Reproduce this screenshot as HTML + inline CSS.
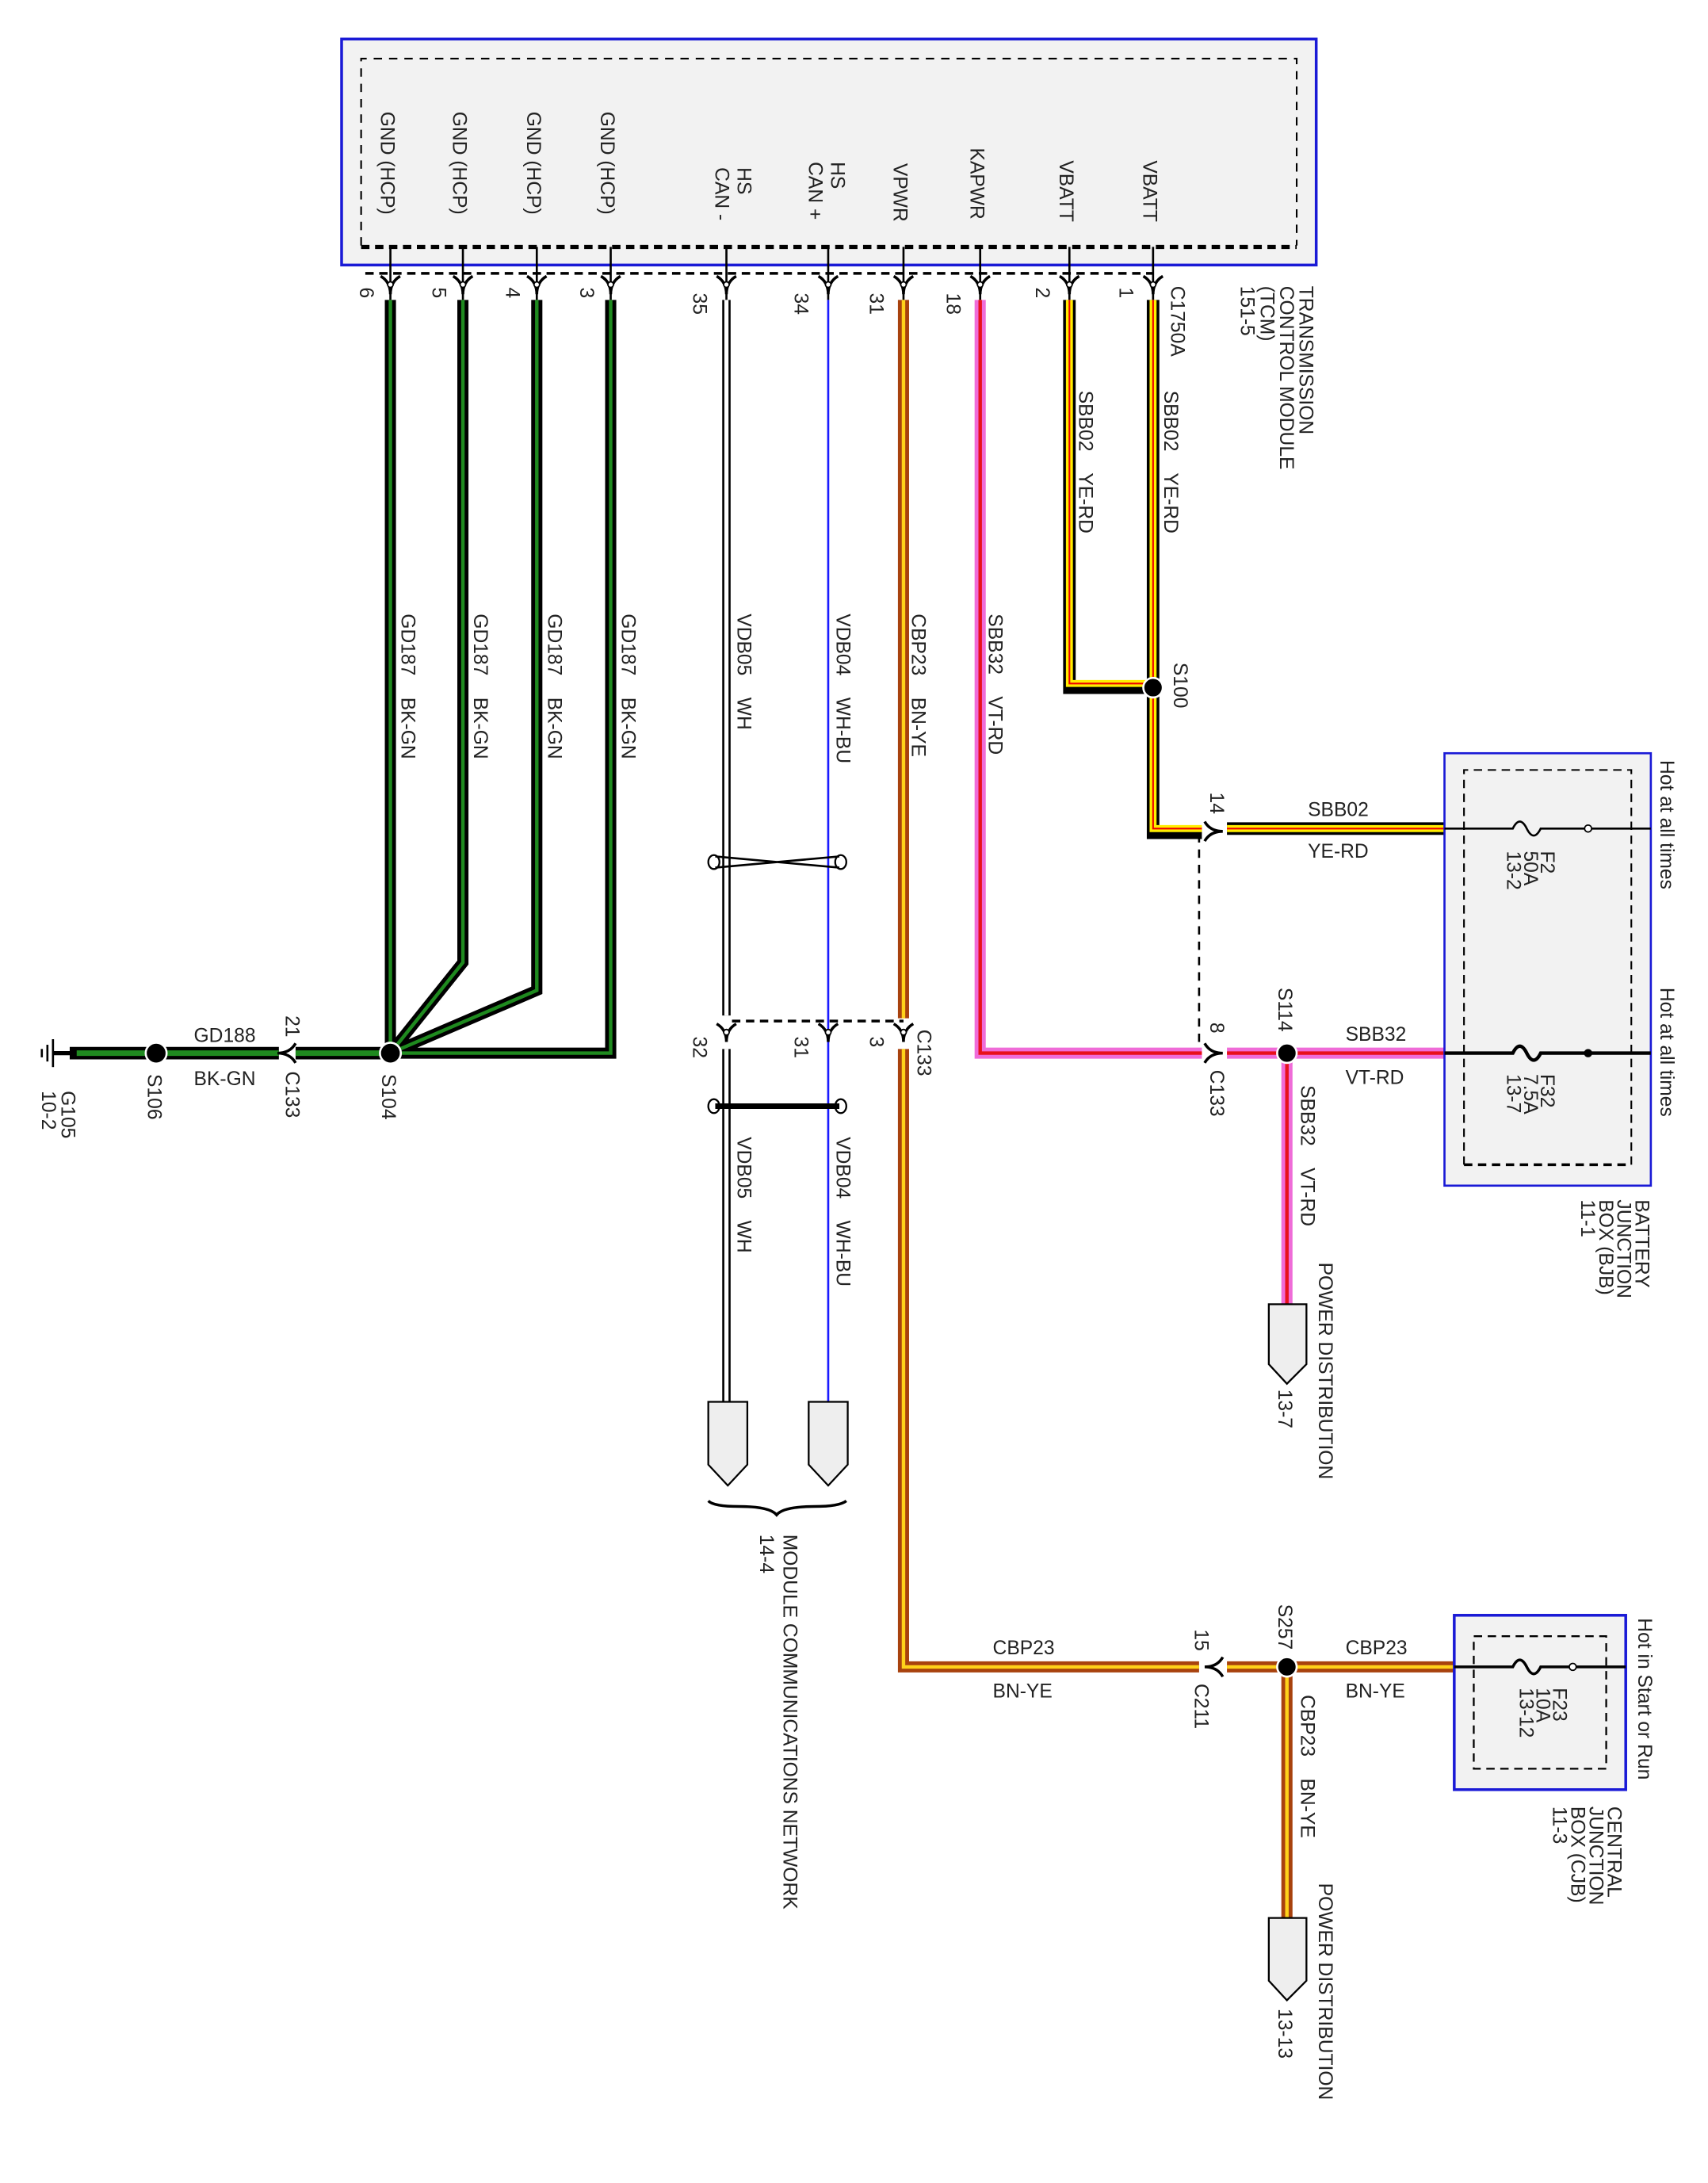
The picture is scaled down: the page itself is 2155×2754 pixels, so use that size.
<!DOCTYPE html>
<html><head><meta charset="utf-8"><style>
html,body{margin:0;padding:0;background:#fff}
svg{display:block}
text{font-family:"Liberation Sans",sans-serif;font-size:14px;fill:#222;white-space:pre}
</style></head><body>
<svg width="2155" height="2754" viewBox="0 0 1225 1565" preserveAspectRatio="none" xmlns="http://www.w3.org/2000/svg" xml:space="preserve">
<defs>
<g id="pinD"><path d="M-7,-6 Q0,-2 0,7 M7,-6 Q0,-2 0,7" fill="none" stroke="#000" stroke-width="2"/><circle cx="0" cy="0" r="2" fill="#fff" stroke="#000" stroke-width="1"/></g>
<g id="pinR"><path d="M-6,-7 Q-2,0 7,0 M-6,7 Q-2,0 7,0" fill="none" stroke="#000" stroke-width="2"/></g>
<g id="pinL"><path d="M6,-7 Q2,0 -7,0 M6,7 Q2,0 -7,0" fill="none" stroke="#000" stroke-width="2"/></g>
</defs>

<rect x="245" y="28" width="699" height="162" fill="#f2f2f2" stroke="#1a1ad6" stroke-width="2"/>
<path d="M259,176 V42 H930 V176" fill="none" stroke="#000" stroke-width="1.2" stroke-dasharray="6,5"/>
<line x1="259" y1="177" x2="930" y2="177" stroke="#000" stroke-width="3" stroke-dasharray="6,4"/>
<line x1="262" y1="196" x2="827" y2="196" stroke="#000" stroke-width="2" stroke-dasharray="6,4"/>

<g stroke="#000" stroke-width="1.5">
<line x1="280" y1="177" x2="280" y2="215"/><line x1="332" y1="177" x2="332" y2="215"/>
<line x1="385" y1="177" x2="385" y2="215"/><line x1="438" y1="177" x2="438" y2="215"/>
<line x1="521" y1="177" x2="521" y2="215"/><line x1="594" y1="177" x2="594" y2="215"/>
<line x1="648" y1="177" x2="648" y2="215"/><line x1="703" y1="177" x2="703" y2="215"/>
<line x1="767" y1="177" x2="767" y2="215"/><line x1="827" y1="177" x2="827" y2="215"/>
</g>
<g>
<use href="#pinD" x="280" y="204"/><use href="#pinD" x="332" y="204"/><use href="#pinD" x="385" y="204"/><use href="#pinD" x="438" y="204"/>
<use href="#pinD" x="521" y="204"/><use href="#pinD" x="594" y="204"/><use href="#pinD" x="648" y="204"/><use href="#pinD" x="703" y="204"/>
<use href="#pinD" x="767" y="204"/><use href="#pinD" x="827" y="204"/>
</g>

<g font-size="16.5">
<text transform="translate(273,80) rotate(90)">GND (HCP)</text>
<text transform="translate(325,80) rotate(90)">GND (HCP)</text>
<text transform="translate(378,80) rotate(90)">GND (HCP)</text>
<text transform="translate(431,80) rotate(90)">GND (HCP)</text>
<text transform="translate(529,120) rotate(90)">HS</text>
<text transform="translate(513,120) rotate(90)">CAN -</text>
<text transform="translate(596,116) rotate(90)">HS</text>
<text transform="translate(580,116) rotate(90)">CAN +</text>
<text transform="translate(641,117) rotate(90)">VPWR</text>
<text transform="translate(696,106) rotate(90)">KAPWR</text>
<text transform="translate(760,115) rotate(90)">VBATT</text>
<text transform="translate(820,115) rotate(90)">VBATT</text>
</g>
<g font-size="14">
<text transform="translate(258,206) rotate(90)">6</text>
<text transform="translate(310,206) rotate(90)">5</text>
<text transform="translate(363,206) rotate(90)">4</text>
<text transform="translate(416,206) rotate(90)">3</text>
<text transform="translate(497,210) rotate(90)">35</text>
<text transform="translate(570,210) rotate(90)">34</text>
<text transform="translate(624,210) rotate(90)">31</text>
<text transform="translate(679,210) rotate(90)">18</text>
<text transform="translate(743,206) rotate(90)">2</text>
<text transform="translate(803,206) rotate(90)">1</text>
<text transform="translate(840,205) rotate(90)">C1750A</text>
<text transform="translate(932,205) rotate(90)">TRANSMISSION</text>
<text transform="translate(918,205) rotate(90)">CONTROL MODULE</text>
<text transform="translate(904,205) rotate(90)">(TCM)</text>
<text transform="translate(890,205) rotate(90)">151-5</text>
</g>

<g fill="none">
<path d="M280,215 V755 M332,215 V690 L280,755 M385,215 V710 L280,755 M438,215 V755 H280" stroke="#000" stroke-width="8"/>
<path d="M280,215 V755 M332,215 V690 L280,755 M385,215 V710 L280,755 M438,215 V755 H280" stroke="#1f8a1f" stroke-width="2.5"/>
<path d="M50,755 H200 M212,755 H280" stroke="#000" stroke-width="9"/>
<path d="M55,755 H200 M212,755 H280" stroke="#1f8a1f" stroke-width="4"/>
</g>
<use href="#pinL" x="206" y="755"/>
<circle cx="280" cy="755" r="7.5" fill="#000" stroke="#fff" stroke-width="1.5"/>
<circle cx="112" cy="755" r="7.5" fill="#000" stroke="#fff" stroke-width="1.5"/>
<g stroke="#000" stroke-width="1.5">
<line x1="38" y1="745" x2="38" y2="765"/><line x1="34" y1="749" x2="34" y2="761"/><line x1="30" y1="752" x2="30" y2="758"/>
<line x1="38" y1="755" x2="52" y2="755" stroke-width="3"/>
</g>
<text x="139" y="747" font-size="15">GD188</text>
<text x="139" y="778" font-size="15">BK-GN</text>
<g font-size="14">
<text transform="translate(205,728) rotate(90)">21</text>
<text transform="translate(205,768) rotate(90)">C133</text>
<text transform="translate(274,770) rotate(90)">S104</text>
<text transform="translate(106,770) rotate(90)">S106</text>
<text transform="translate(44,782) rotate(90)">G105</text>
<text transform="translate(30,782) rotate(90)">10-2</text>
</g>
<g font-size="15">
<text transform="translate(288,440) rotate(90)">GD187    BK-GN</text>
<text transform="translate(340,440) rotate(90)">GD187    BK-GN</text>
<text transform="translate(393,440) rotate(90)">GD187    BK-GN</text>
<text transform="translate(446,440) rotate(90)">GD187    BK-GN</text>
</g>

<g fill="none">
<path d="M521,215 V728 M521,752 V1005" stroke="#000" stroke-width="6"/>
<path d="M521,215 V728 M521,752 V1005" stroke="#fff" stroke-width="3"/>
<path d="M594,215 V1005" stroke="#1a1aff" stroke-width="1.5"/>
<line x1="525" y1="732" x2="648" y2="732" stroke="#000" stroke-width="2" stroke-dasharray="6,4"/>
<path d="M513,614 L602,622 M513,622 L602,614" stroke="#000" stroke-width="1.5"/>
<ellipse cx="512" cy="618" rx="4" ry="5" stroke="#000" stroke-width="1.3"/>
<ellipse cx="603" cy="618" rx="4" ry="5" stroke="#000" stroke-width="1.3"/>
<path d="M513,793 H602" stroke="#000" stroke-width="4"/>
<ellipse cx="512" cy="793" rx="4" ry="5" stroke="#000" stroke-width="1.3"/>
<ellipse cx="603" cy="793" rx="4" ry="5" stroke="#000" stroke-width="1.3"/>
</g>
<use href="#pinD" x="521" y="740"/><use href="#pinD" x="594" y="740"/><use href="#pinD" x="648" y="740"/>
<g font-size="14">
<text transform="translate(497,743) rotate(90)">32</text>
<text transform="translate(570,743) rotate(90)">31</text>
<text transform="translate(624,743) rotate(90)">3</text>
<text transform="translate(658,738) rotate(90)">C133</text>
</g>
<g font-size="15">
<text transform="translate(529,440) rotate(90)">VDB05    WH</text>
<text transform="translate(600,440) rotate(90)">VDB04    WH-BU</text>
<text transform="translate(529,815) rotate(90)">VDB05    WH</text>
<text transform="translate(600,815) rotate(90)">VDB04    WH-BU</text>
<text transform="translate(654,440) rotate(90)">CBP23    BN-YE</text>
<text transform="translate(709,440) rotate(90)">SBB32    VT-RD</text>
<text transform="translate(774,280) rotate(90)">SBB02    YE-RD</text>
<text transform="translate(835,280) rotate(90)">SBB02    YE-RD</text>
</g>
<polygon points="508,1005 536,1005 536,1050 522,1065 508,1050" fill="#eee" stroke="#000" stroke-width="1.3"/>
<polygon points="580,1005 608,1005 608,1050 594,1065 580,1050" fill="#eee" stroke="#000" stroke-width="1.3"/>
<path d="M508,1076 Q512,1080 530,1080 Q552,1080 557,1086 Q562,1080 584,1080 Q602,1080 607,1076" fill="none" stroke="#000" stroke-width="2"/>
<text transform="translate(562,1100) rotate(90)" font-size="15.5">MODULE COMMUNICATIONS NETWORK</text>
<text transform="translate(545,1100) rotate(90)" font-size="15">14-4</text>

<g fill="none">
<path d="M648,215 V730 M648,752 V1195 H860 M880,1195 H1043 M923,1195 V1375" stroke="#a8420e" stroke-width="8"/>
<path d="M648,215 V730 M648,752 V1195 H860 M880,1195 H1043 M923,1195 V1375" stroke="#ffd21a" stroke-width="2.5"/>
</g>
<use href="#pinL" x="871" y="1195"/>
<circle cx="923" cy="1195" r="7" fill="#000" stroke="#fff" stroke-width="1.5"/>
<text x="712" y="1186" font-size="15">CBP23</text><text x="712" y="1217" font-size="15">BN-YE</text>
<text x="965" y="1186" font-size="15">CBP23</text><text x="965" y="1217" font-size="15">BN-YE</text>
<g font-size="14">
<text transform="translate(857,1168) rotate(90)">15</text>
<text transform="translate(857,1207) rotate(90)">C211</text>
<text transform="translate(917,1150) rotate(90)">S257</text>
<text transform="translate(933,1215) rotate(90)" font-size="15">CBP23    BN-YE</text>
<text transform="translate(946,1350) rotate(90)" font-size="15.5">POWER DISTRIBUTION</text>
<text transform="translate(917,1440) rotate(90)" font-size="15">13-13</text>
</g>
<polygon points="910,1375 937,1375 937,1420 923,1434 910,1420" fill="#eee" stroke="#000" stroke-width="1.3"/>

<rect x="1043" y="1158" width="123" height="125" fill="#f2f2f2" stroke="#1a1ad6" stroke-width="2"/>
<rect x="1057" y="1173" width="95" height="95" fill="none" stroke="#000" stroke-width="1.3" stroke-dasharray="6,4"/>
<path d="M1043,1195 H1085 Q1090,1185 1095,1195 Q1100,1205 1105,1195 H1166" fill="none" stroke="#000" stroke-width="2"/>
<circle cx="1128" cy="1195" r="2.5" fill="#fff" stroke="#000"/>
<g font-size="14">
<text transform="translate(1114,1210) rotate(90)">F23</text>
<text transform="translate(1102,1210) rotate(90)">10A</text>
<text transform="translate(1090,1210) rotate(90)">13-12</text>
<text transform="translate(1175,1160) rotate(90)" font-size="15">Hot in Start or Run</text>
<text transform="translate(1153,1295) rotate(90)">CENTRAL</text>
<text transform="translate(1140,1295) rotate(90)">JUNCTION</text>
<text transform="translate(1127,1295) rotate(90)">BOX (CJB)</text>
<text transform="translate(1114,1295) rotate(90)">11-3</text>
</g>

<g fill="none">
<path d="M703,215 V755 H862 M880,755 H1036 M923,755 V935" stroke="#ef6cd8" stroke-width="8"/>
<path d="M703,215 V755 H862 M880,755 H1036 M923,755 V935" stroke="#e8101a" stroke-width="2.5"/>
</g>
<use href="#pinR" x="870" y="755"/>
<circle cx="923" cy="755" r="7" fill="#000" stroke="#fff" stroke-width="1.5"/>
<text x="965" y="746" font-size="15">SBB32</text><text x="965" y="777" font-size="15">VT-RD</text>
<g font-size="14">
<text transform="translate(868,733) rotate(90)">8</text>
<text transform="translate(868,767) rotate(90)">C133</text>
<text transform="translate(917,708) rotate(90)">S114</text>
<text transform="translate(933,778) rotate(90)" font-size="15">SBB32    VT-RD</text>
<text transform="translate(946,905) rotate(90)" font-size="15.5">POWER DISTRIBUTION</text>
<text transform="translate(917,996) rotate(90)" font-size="15">13-7</text>
</g>
<polygon points="910,935 937,935 937,978 923,992 910,978" fill="#eee" stroke="#000" stroke-width="1.3"/>

<g fill="none">
<path d="M767,215 V493 H827 M827,215 V597 H862 M880,594 H1036" stroke="#000" stroke-width="9"/>
<path d="M767,215 V490 H827 M827,215 V594 H862 M880,594 H1036" stroke="#ffee00" stroke-width="5"/>
<path d="M767,215 V490 H827 M827,215 V594 H862 M880,594 H1036" stroke="#e00" stroke-width="1.2"/>
</g>
<use href="#pinR" x="870" y="596"/>
<line x1="860" y1="598" x2="860" y2="752" stroke="#000" stroke-width="1.5" stroke-dasharray="6,5"/>
<circle cx="827" cy="493" r="7" fill="#000" stroke="#fff" stroke-width="1.5"/>
<text x="938" y="585" font-size="15">SBB02</text><text x="938" y="615" font-size="15">YE-RD</text>
<g font-size="14">
<text transform="translate(868,568) rotate(90)">14</text>
<text transform="translate(842,475) rotate(90)">S100</text>
</g>

<rect x="1036" y="540" width="148" height="310" fill="#f2f2f2" stroke="#1a1ad6" stroke-width="1.5"/>
<path d="M1050,835 V552 H1170 V835" fill="none" stroke="#000" stroke-width="1.2" stroke-dasharray="6,4"/>
<line x1="1050" y1="835" x2="1170" y2="835" stroke="#000" stroke-width="2" stroke-dasharray="6,4"/>
<g fill="none" stroke="#000">
<path d="M1036,594 H1085 Q1090,584 1095,594 Q1100,604 1105,594 H1184" stroke-width="1.5"/>
<path d="M1036,755 H1085 Q1090,745 1095,755 Q1100,765 1105,755 H1184" stroke-width="2.5"/>
</g>
<circle cx="1139" cy="594" r="2.5" fill="#fff" stroke="#000"/>
<circle cx="1139" cy="755" r="2.5" fill="#000" stroke="#000"/>
<g font-size="14">
<text transform="translate(1105,610) rotate(90)">F2</text>
<text transform="translate(1093,610) rotate(90)">50A</text>
<text transform="translate(1081,610) rotate(90)">13-2</text>
<text transform="translate(1105,770) rotate(90)">F32</text>
<text transform="translate(1093,770) rotate(90)">7.5A</text>
<text transform="translate(1081,770) rotate(90)">13-7</text>
<text transform="translate(1191,545) rotate(90)" font-size="15.5">Hot at all times</text>
<text transform="translate(1191,708) rotate(90)" font-size="15.5">Hot at all times</text>
<text transform="translate(1173,860) rotate(90)">BATTERY</text>
<text transform="translate(1160,860) rotate(90)">JUNCTION</text>
<text transform="translate(1147,860) rotate(90)">BOX (BJB)</text>
<text transform="translate(1134,860) rotate(90)">11-1</text>
</g>
</svg>
</body></html>
